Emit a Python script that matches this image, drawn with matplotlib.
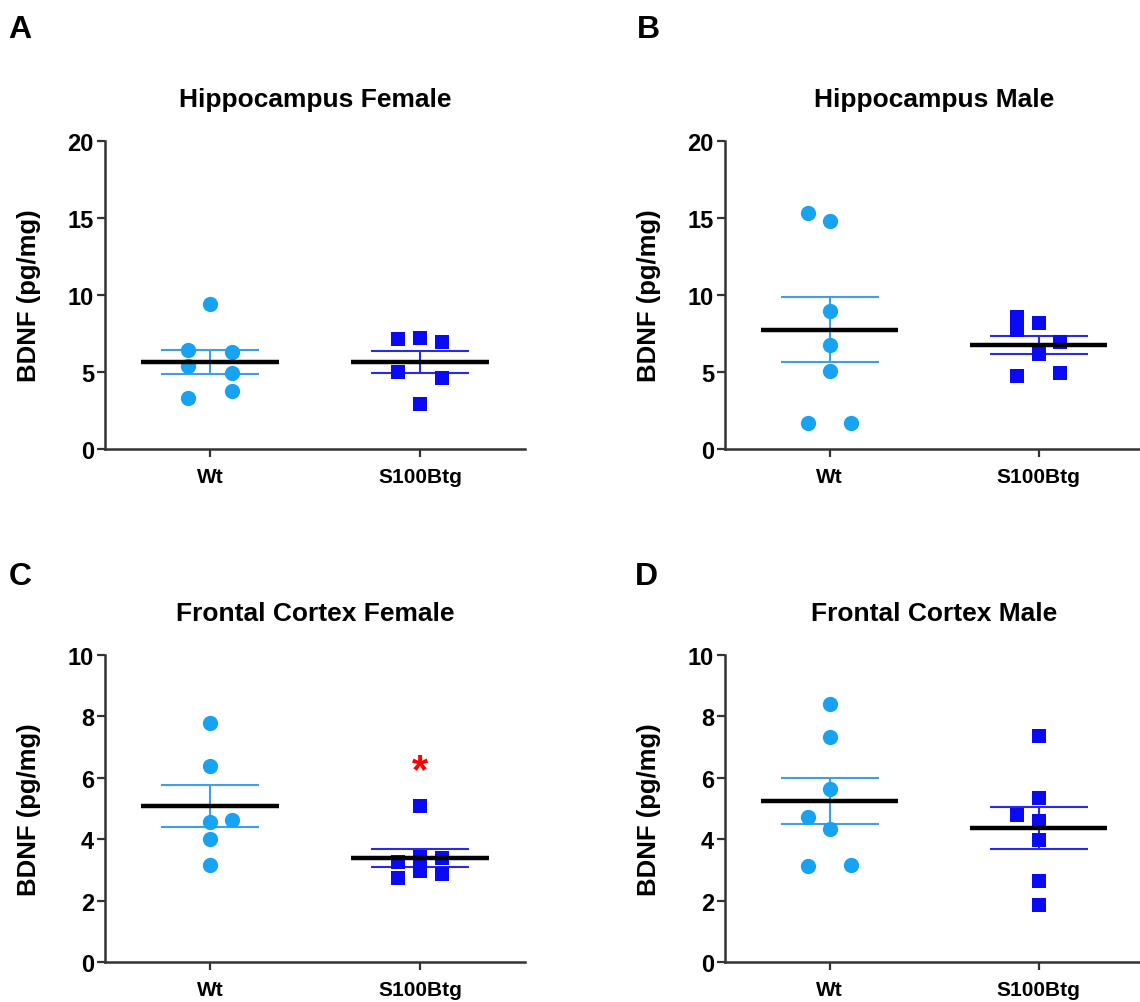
import matplotlib
matplotlib.use('Agg')
import matplotlib.pyplot as plt
import numpy as np

plt.rcParams['font.family'] = ['Liberation Sans', 'DejaVu Sans']
plt.rcParams['font.weight'] = 'bold'

groups = ['Wt', 'S100Btg']

# values, (x offset in slots, value)
hip_f_wt = [(0, 9.43), (-1, 6.44), (1, 6.28), (-1, 5.42), (1, 4.92), (1, 3.79), (-1, 3.29)]
hip_f_tg = [(-1, 7.15), (0, 7.24), (1, 6.98), (-1, 4.98), (1, 4.62), (0, 2.90)]
hip_m_wt = [(-1, 15.32), (0, 14.78), (0, 8.99), (0, 6.78), (0, 5.05), (-1, 1.69), (1, 1.69)]
hip_m_tg = [(-1, 8.60), (-1, 7.74), (0, 8.17), (1, 6.98), (0, 6.18), (-1, 4.72), (1, 4.96)]
fc_f_wt = [(0, 7.78), (0, 6.39), (0, 4.55), (1, 4.63), (0, 4.01), (0, 3.17)]
fc_f_tg = [(0, 5.08), (-1, 3.25), (-1, 2.74), (0, 3.41), (0, 2.98), (1, 3.38), (1, 2.87)]
fc_m_wt = [(0, 8.40), (0, 7.33), (0, 5.63), (-1, 4.71), (0, 4.33), (-1, 3.14), (1, 3.16)]
fc_m_tg = [(0, 7.36), (0, 5.34), (-1, 4.80), (0, 4.60), (0, 3.97), (0, 2.63), (0, 1.86)]

panels = [
    ('A', 'Hippocampus Female', hip_f_wt, hip_f_tg, 20, 5, None),
    ('B', 'Hippocampus Male', hip_m_wt, hip_m_tg, 20, 5, None),
    ('C', 'Frontal Cortex Female', fc_f_wt, fc_f_tg, 10, 2, 6.55),
    ('D', 'Frontal Cortex Male', fc_m_wt, fc_m_tg, 10, 2, None),
]

wt_color = '#17a2f2'
wt_err = '#3f9fe6'
tg_color = '#0a0af5'
tg_err = '#2a2ae0'

W, H = 1140, 1003
fig = plt.figure(figsize=(W / 100, H / 100), dpi=100)

# axes box in pixels: left, top(y of max tick), right, bottom(y of 0)
boxes = [(105, 142, 525, 450), (725, 142, 1143, 450),
         (105, 656, 525, 963), (725, 656, 1143, 963)]
letter_pos = [(20, 30), (648, 30), (20, 577), (646, 577)]

slot = 0.105
for (letter, title, wt, tg, ymax, ystep, star), (l, t, r, b), (lx, ly) in zip(panels, boxes, letter_pos):
    ax = fig.add_axes([l / W, 1 - b / H, (r - l) / W, (b - t) / H])
    for i, (data, mk, col, ecol, ms) in enumerate([(wt, 'o', wt_color, wt_err, 11),
                                                    (tg, 's', tg_color, tg_err, 10.5)]):
        off = np.array([d[0] for d in data])
        vals = np.array([d[1] for d in data])
        ax.plot(i + off * slot, vals, linestyle='none', marker=mk, ms=ms,
                color=col, markeredgewidth=0, zorder=3)
        m = vals.mean()
        sem = vals.std(ddof=1) / np.sqrt(len(vals))
        ax.errorbar(i, m, yerr=sem, color=ecol, lw=1.5, capsize=35,
                    capthick=1.5, zorder=2)
        ax.hlines(m, i - 0.33, i + 0.33, color='black', lw=3.2, zorder=4)
    if star is not None:
        ax.annotate('*', (1, star), xytext=(0, -7), textcoords='offset points',
                    color='red', fontsize=30, ha='center', va='center')

    ax.set_xlim(-0.5, 1.5)
    ax.set_ylim(0, ymax)
    ax.set_yticks(np.arange(0, ymax + 1, ystep))
    ax.set_xticks([0, 1])
    ax.set_xticklabels(groups)
    ax.spines['top'].set_visible(False)
    ax.spines['right'].set_visible(False)
    for s in ['left', 'bottom']:
        ax.spines[s].set_linewidth(1.8)
        ax.spines[s].set_color('#333333')
    ax.tick_params(axis='both', width=1.6, length=6, color='#333333')
    ax.tick_params(axis='x', pad=7, labelsize=15)
    ax.tick_params(axis='y', pad=2, labelsize=17)
    ax.set_ylabel('BDNF (pg/mg)', fontsize=18.5, fontweight='bold', labelpad=19)
    ax.set_title(title, fontsize=19, fontweight='bold', pad=25)
    fig.text(lx / W, 1 - ly / H, letter, fontsize=23, fontweight='bold',
             ha='center', va='center')

fig.savefig('out.png', dpi=100)
